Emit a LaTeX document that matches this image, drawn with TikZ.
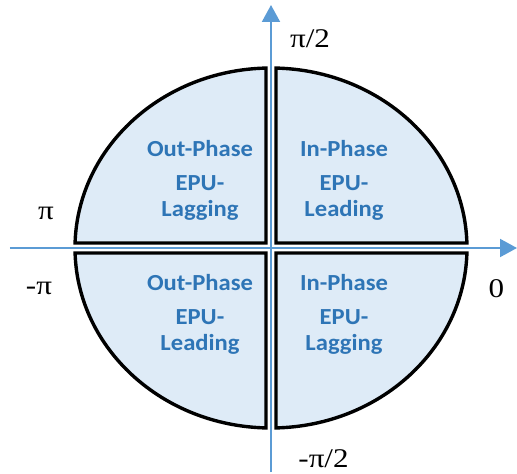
\documentclass[tikz,border=0pt]{standalone}
\usepackage{fontspec}
\setmainfont{Liberation Serif}
\newfontfamily\qfont[FakeStretch=1.07]{Carlito}
\newfontfamily\lfont[FakeStretch=1.15]{Liberation Serif}
\usetikzlibrary{arrows.meta}
\definecolor{qfill}{HTML}{DEEBF7}
\definecolor{qtext}{HTML}{2E75B6}
\definecolor{axisblue}{HTML}{5B9BD5}
\begin{document}
\begin{tikzpicture}[x=1pt,y=1pt,
  quad/.style={draw=black,line width=3.4pt,fill=qfill,line join=miter},
  qlabel/.style={font=\qfont\bfseries\fontsize{23}{26}\selectfont,text=qtext,anchor=base,inner sep=0pt},
  ax/.style={draw=axisblue,line width=2pt,-{Triangle[width=18pt,length=17pt]}},
  anglbl/.style={font=\lfont\fontsize{27}{30}\selectfont,anchor=base,inner sep=0pt}]
\useasboundingbox (-271,-226) rectangle (246,248);
\pgfmathsetmacro\myRa{196}
\pgfmathsetmacro\myRb{180}
\pgfmathsetmacro\myG{5}
\pgfmathsetmacro\myTa{asin(\myG/\myRb)}
\pgfmathsetmacro\myTb{acos(\myG/\myRa)}
\pgfmathsetmacro\myXa{\myRa*cos(\myTa)}
\pgfmathsetmacro\myYb{\myRb*sin(\myTb)}
\pgfmathsetmacro\myAa{180-\myTb}
\pgfmathsetmacro\myAb{180-\myTa}
\pgfmathsetmacro\myAc{180+\myTa}
\pgfmathsetmacro\myAd{180+\myTb}
\pgfmathsetmacro\myAe{360-\myTb}
\pgfmathsetmacro\myAf{360-\myTa}
% quadrants
\path[quad] (\myG,\myG) -- (\myXa,\myG) arc[start angle=\myTa, end angle=\myTb, x radius=\myRa, y radius=\myRb] -- cycle;
\path[quad] (-\myG,\myG) -- (-\myG,\myYb) arc[start angle=\myAa, end angle=\myAb, x radius=\myRa, y radius=\myRb] -- cycle;
\path[quad] (-\myG,-\myG) -- (-\myXa,-\myG) arc[start angle=\myAc, end angle=\myAd, x radius=\myRa, y radius=\myRb] -- cycle;
\path[quad] (\myG,-\myG) -- (\myG,-\myYb) arc[start angle=\myAe, end angle=\myAf, x radius=\myRa, y radius=\myRb] -- cycle;
% axes
\coordinate (hL) at (-261,0);
\coordinate (hR) at (246,0);
\coordinate (vB) at (0,-224);
\coordinate (vT) at (0,243);
\draw[ax] (hL) -- (hR);
\draw[ax] (vB) -- (vT);
% quadrant texts
\node[qlabel] (tl1) at (-71,91) {Out-Phase};
\node[qlabel] (tl2) at (-71,57) {EPU-};
\node[qlabel] (tl3) at (-71,31) {Lagging};
\node[qlabel] (tr1) at (73,91) {In-Phase};
\node[qlabel] (tr2) at (73,57) {EPU-};
\node[qlabel] (tr3) at (73,31) {Leading};
\node[qlabel] (bl1) at (-71,-42) {Out-Phase};
\node[qlabel] (bl2) at (-71,-76) {EPU-};
\node[qlabel] (bl3) at (-71,-102) {Leading};
\node[qlabel] (br1) at (73,-42) {In-Phase};
\node[qlabel] (br2) at (73,-76) {EPU-};
\node[qlabel] (br3) at (73,-102) {Lagging};
% angle labels
\node[anglbl] (lpi2) at (39,200) {π/2};
\node[anglbl] (lpi) at (-225,28) {π};
\node[anglbl] (lmpi) at (-232,-46) {-π};
\node[anglbl] (lzero) at (225.5,-49) {0};
\node[anglbl] (lmpi2) at (52.5,-219) {-π/2};
\end{tikzpicture}
\end{document}
